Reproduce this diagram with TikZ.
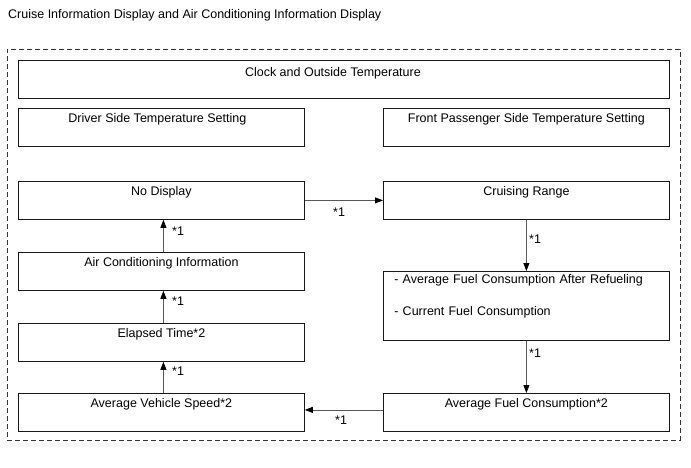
\documentclass[tikz,border=0pt]{standalone}
\usepackage{fontspec}
\setmainfont{Liberation Sans}
\usetikzlibrary{arrows.meta}
\begin{document}
\begin{tikzpicture}[x=1pt,y=-1pt,
  font=\fontsize{12.5}{14}\selectfont,
  box/.style={draw=black!90, line width=0.8pt, inner sep=0pt, anchor=north west,
    minimum width=286pt, minimum height=38pt, text height=14pt, text depth=24pt},
  conn/.style={draw=black!65, line width=0.8pt,
    -{Triangle[length=8pt,width=6pt,color=black]}},
  lab/.style={inner sep=0pt, anchor=base west},
  frame/.style={draw=black!80, line width=0.8pt, dash pattern=on 5pt off 3pt,
    anchor=north west, inner sep=0pt}]
\useasboundingbox (0,0) rectangle (691,467);
\node[lab] (title) at (8,18) {Cruise Information Display and Air Conditioning Information Display};
\node[frame, minimum width=673pt, minimum height=391pt] (fr) at (7,49) {};
\node[box, minimum width=651pt, text height=16pt, text depth=22pt] (clock) at (18,60) {Clock and Outside Temperature\hspace*{22pt}};
\node[box] (driver) at (18,108) {Driver Side Temperature Setting\hspace*{8pt}};
\node[box] (front) at (383,108) {Front Passenger Side Temperature Setting};
\node[box] (nodisp) at (18,181) {No Display};
\node[box] (cruise) at (383,181) {Cruising Range};
\node[box] (ac) at (18,252) {Air Conditioning Information};
\node[box, minimum height=69pt, text height=12pt, text depth=57pt, inner xsep=11pt,
  text width=264pt, align=left] (afc) at (383,271)
  {- Average Fuel Consumption After Refueling\\[18pt]- Current Fuel Consumption};
\node[box] (et) at (18,323) {Elapsed Time*2};
\node[box] (avs) at (18,393) {Average Vehicle Speed*2};
\node[box] (afc2) at (383,393) {Average Fuel Consumption*2};
% connectors
\draw[conn] (nodisp.east) -- (cruise.west);
\draw[conn] (cruise.south) -- (afc.north);
\draw[conn] (afc.south) -- (afc2.north);
\draw[conn] ([yshift=2.5pt]afc2.west) -- ([yshift=2.5pt]avs.east);
\draw[conn] ([xshift=2pt]avs.north) -- ([xshift=2pt]et.south);
\draw[conn] ([xshift=2pt]et.north) -- ([xshift=2pt]ac.south);
\draw[conn] ([xshift=2pt]ac.north) -- ([xshift=2pt]nodisp.south);
% labels
\node[lab] (l1) at (333,216) {*1};
\node[lab] (l2) at (529,243) {*1};
\node[lab] (l3) at (529,357) {*1};
\node[lab] (l4) at (335,424) {*1};
\node[lab] (l5) at (172,375) {*1};
\node[lab] (l6) at (172,305) {*1};
\node[lab] (l7) at (172,235) {*1};
\end{tikzpicture}
\end{document}
